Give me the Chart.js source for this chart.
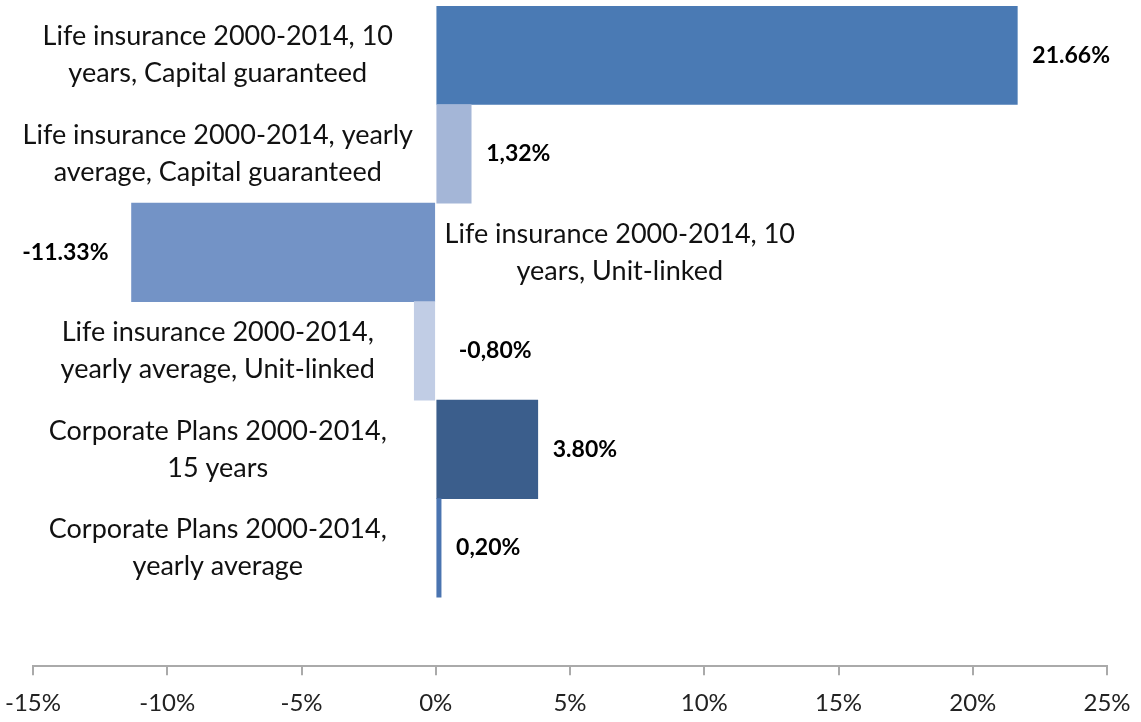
<!DOCTYPE html>
<html>
<head>
<meta charset="utf-8">
<script src="https://cdn.jsdelivr.net/npm/chart.js@4.4.1/dist/chart.umd.min.js"></script>
<style>
  html, body { margin: 0; padding: 0; background: #ffffff; }
  #wrap { width: 1141px; height: 722px; }
</style>
</head>
<body>
<div id="wrap"><canvas id="chart" width="1141" height="722"></canvas></div>
<script>
// Chart values
const categories = [
    ['Life insurance 2000-2014, 10', 'years, Capital guaranteed'],
    ['Life insurance 2000-2014, yearly', 'average, Capital guaranteed'],
    ['Life insurance 2000-2014, 10', 'years, Unit-linked'],
    ['Life insurance 2000-2014,', 'yearly average, Unit-linked'],
    ['Corporate Plans 2000-2014,', '15 years'],
    ['Corporate Plans 2000-2014,', 'yearly average']
];
const returns = [21.66, 1.32, -11.33, -0.80, 3.80, 0.20];
const valueLabels = ['21.66%', '1,32%', '-11.33%', '-0,80%', '3.80%', '0,20%'];
const barColors = ['#4a7ab4', '#a4b6d7', '#7393c6', '#c1cde5', '#3b5e8c', '#4a74b0'];

const FONT = 'Lato, "Open Sans", sans-serif';

// Draw category names and values next to the bars
const barLabels = {
    id: 'barLabels',
    afterDatasetsDraw(chart) {
        const ctx = chart.ctx;
        const zero = chart.scales.x.getPixelForValue(0);
        const meta = chart.getDatasetMeta(0);
        ctx.save();
        ctx.textBaseline = 'middle';
        meta.data.forEach((bar, i) => {
            const v = returns[i];
            const y = bar.y;
            const lines = categories[i];
            const lineH = 37;
            const flip = v < -5; // long negative bar: name goes to the right

            ctx.font = '27px ' + FONT;
            ctx.fillStyle = '#111';
            ctx.textAlign = 'center';
            const cx = flip ? zero + 184 : zero - 218;
            lines.forEach((t, k) => {
                ctx.fillText(t, cx, y + (k - (lines.length - 1) / 2) * lineH);
            });

            ctx.font = 'bold 23px ' + FONT;
            ctx.fillStyle = '#000';
            if (flip) {
                ctx.textAlign = 'right';
                ctx.fillText(valueLabels[i], Math.min(bar.x, bar.base) - 23, y);
            } else {
                ctx.textAlign = 'left';
                const end = Math.max(bar.x, bar.base);
                ctx.fillText(valueLabels[i], end + (v < 0 ? 24 : 15), y);
            }
        });
        ctx.restore();
    }
};

new Chart(document.getElementById('chart'), {
    type: 'bar',
    data: {
        datasets: [{
            data: returns.map((v, i) => ({ x: v, y: i })),
            backgroundColor: barColors,
            borderWidth: 0,
            barPercentage: 1,
            categoryPercentage: 1
        }]
    },
    options: {
        indexAxis: 'y',
        responsive: false,
        animation: false,
        layout: { padding: { left: 33, right: 34, top: 6, bottom: -10 } },
        plugins: {
            legend: { display: false },
            tooltip: { enabled: false }
        },
        scales: {
            y: {
                type: 'linear',
                display: false,
                offset: false,
                reverse: true,
                min: -0.5,
                max: 6.2,
                afterBuildTicks: s => { s.ticks = []; }
            },
            x: {
                type: 'linear',
                min: -15,
                max: 25,
                afterFit: s => { s.paddingLeft = 0; s.paddingRight = 0; },
                grid: {
                    display: true,
                    drawOnChartArea: false,
                    drawTicks: true,
                    tickLength: 9,
                    color: '#aaaaaa',
                    lineWidth: 2
                },
                border: { display: true, color: '#aaaaaa', width: 2 },
                ticks: {
                    stepSize: 5,
                    padding: 14,
                    color: '#222',
                    font: { family: FONT, size: 24 },
                    callback: v => v + '%'
                }
            }
        }
    },
    plugins: [barLabels]
});
</script>
</body>
</html>
